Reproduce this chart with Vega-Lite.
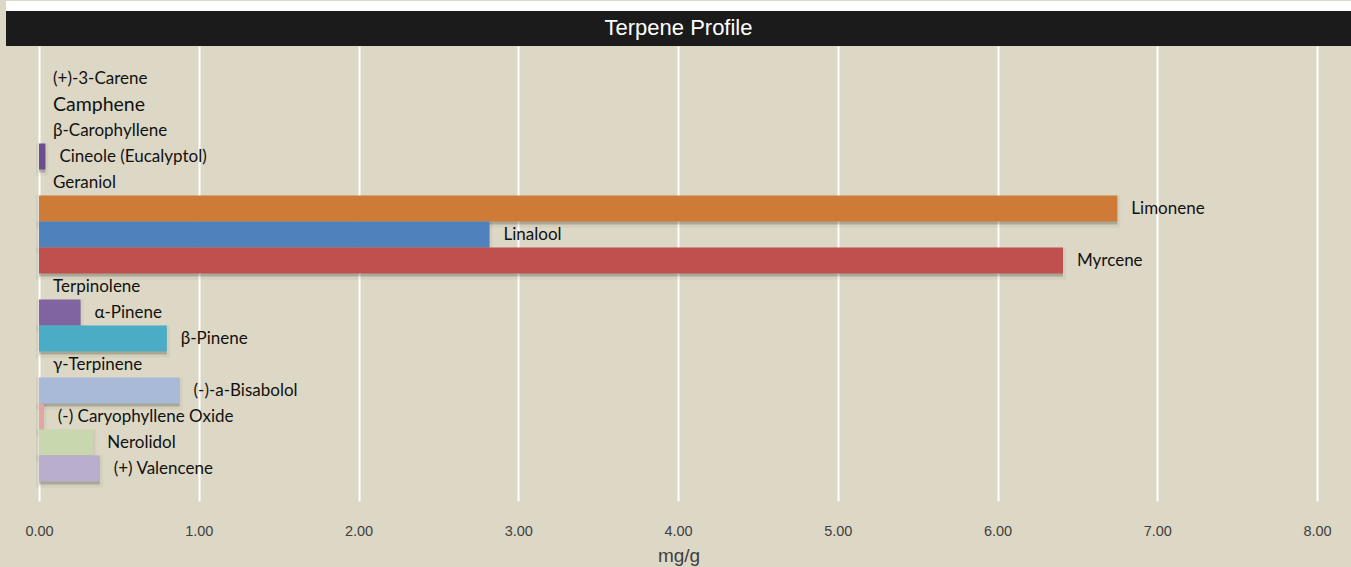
{
  "$schema": "https://vega.github.io/schema/vega-lite/v6.json",
  "background": "#ddd8c5",
  "padding": {"left": 6, "top": 0, "right": 0, "bottom": 1},
  "spacing": 0,
  "config": {"view": {"stroke": null}, "concat": {"spacing": 0}},
  "datasets": {
    "terpenes": [
      {"name": "(+)-3-Carene", "value": 0},
      {"name": "Camphene", "value": 0},
      {"name": "β-Carophyllene", "value": 0},
      {"name": "Cineole (Eucalyptol)", "value": 0.04},
      {"name": "Geraniol", "value": 0},
      {"name": "Limonene", "value": 6.75},
      {"name": "Linalool", "value": 2.82},
      {"name": "Myrcene", "value": 6.41},
      {"name": "Terpinolene", "value": 0},
      {"name": "α-Pinene", "value": 0.26},
      {"name": "β-Pinene", "value": 0.8},
      {"name": "γ-Terpinene", "value": 0},
      {"name": "(-)-a-Bisabolol", "value": 0.88},
      {"name": "(-) Caryophyllene Oxide", "value": 0.03},
      {"name": "Nerolidol", "value": 0.34},
      {"name": "(+) Valencene", "value": 0.38}
    ]
  },
  "vconcat": [
    {
      "width": 1345, "height": 10,
      "view": {"fill": "#ffffff", "stroke": null},
      "data": {"values": [{"t": ""}]},
      "mark": {"type": "text"},
      "encoding": {"text": {"field": "t"}}
    },
    {
      "width": 1345, "height": 35,
      "view": {"fill": "#1b1b1b", "stroke": null},
      "data": {"values": [{"t": "Terpene Profile"}]},
      "mark": {"type": "text", "font": "Liberation Sans", "fontSize": 22, "color": "#ffffff", "baseline": "middle", "dy": -1},
      "encoding": {"text": {"field": "t"}}
    },
    {
      "width": 1345, "height": 455,
      "data": {"name": "terpenes"},
      "encoding": {
        "y": {"field": "name", "type": "nominal", "sort": null, "axis": null,
              "scale": {"domain": ["(+)-3-Carene","Camphene","β-Carophyllene","Cineole (Eucalyptol)","Geraniol","Limonene","Linalool","Myrcene","Terpinolene","α-Pinene","β-Pinene","γ-Terpinene","(-)-a-Bisabolol","(-) Caryophyllene Oxide","Nerolidol","(+) Valencene"],
                        "paddingInner": 0, "paddingOuter": 0.75}},
        "x": {"field": "value", "type": "quantitative",
              "scale": {"domain": [-0.2066, 8.2128], "nice": false, "zero": false},
              "axis": {"title": "mg/g", "values": [0,1,2,3,4,5,6,7,8], "format": ".2f",
                       "grid": true, "gridColor": "#ffffff", "gridWidth": 2, "gridOpacity": 1,
                       "domain": false, "ticks": false, "labelPadding": 23,
                       "labelFont": "Liberation Sans", "labelFontSize": 14.5, "labelColor": "#404040",
                       "titleFont": "Liberation Sans", "titleFontSize": 19, "titleFontWeight": "normal",
                       "titleColor": "#404040", "titlePadding": 9}}
      },
      "layer": [
        {
          "transform": [{"filter": "datum.value > 0"}],
          "mark": {"type": "bar", "color": "#3a3a30", "opacity": 0.3, "stroke": "#3a3a30", "strokeWidth": 6, "strokeOpacity": 0.18, "yOffset": 3},
          "encoding": {"x2": {"datum": 0}}
        },
        {
          "mark": {"type": "bar"},
          "encoding": {
            "x2": {"datum": 0},
            "color": {"field": "name", "type": "nominal", "legend": null,
              "scale": {
                "domain": ["(+)-3-Carene","Camphene","β-Carophyllene","Cineole (Eucalyptol)","Geraniol","Limonene","Linalool","Myrcene","Terpinolene","α-Pinene","β-Pinene","γ-Terpinene","(-)-a-Bisabolol","(-) Caryophyllene Oxide","Nerolidol","(+) Valencene"],
                "range": ["#4f81bd","#c0504d","#9bbb59","#6b4e8f","#4bacc6","#cf7b38","#4f81bd","#c0504d","#9bbb59","#8064a2","#4bacc6","#f79646","#a9bad8","#e3a6a4","#c9d7ae","#b9aecb"]
              }}
          }
        },
        {
          "mark": {"type": "text", "align": "left", "baseline": "middle", "dx": 14, "font": "Lato", "color": "#111111"},
          "encoding": {
            "text": {"field": "name"},
            "size": {"condition": {"test": "datum.name === 'Camphene'", "value": 19.5}, "value": 17}
          }
        }
      ]
    }
  ]
}
